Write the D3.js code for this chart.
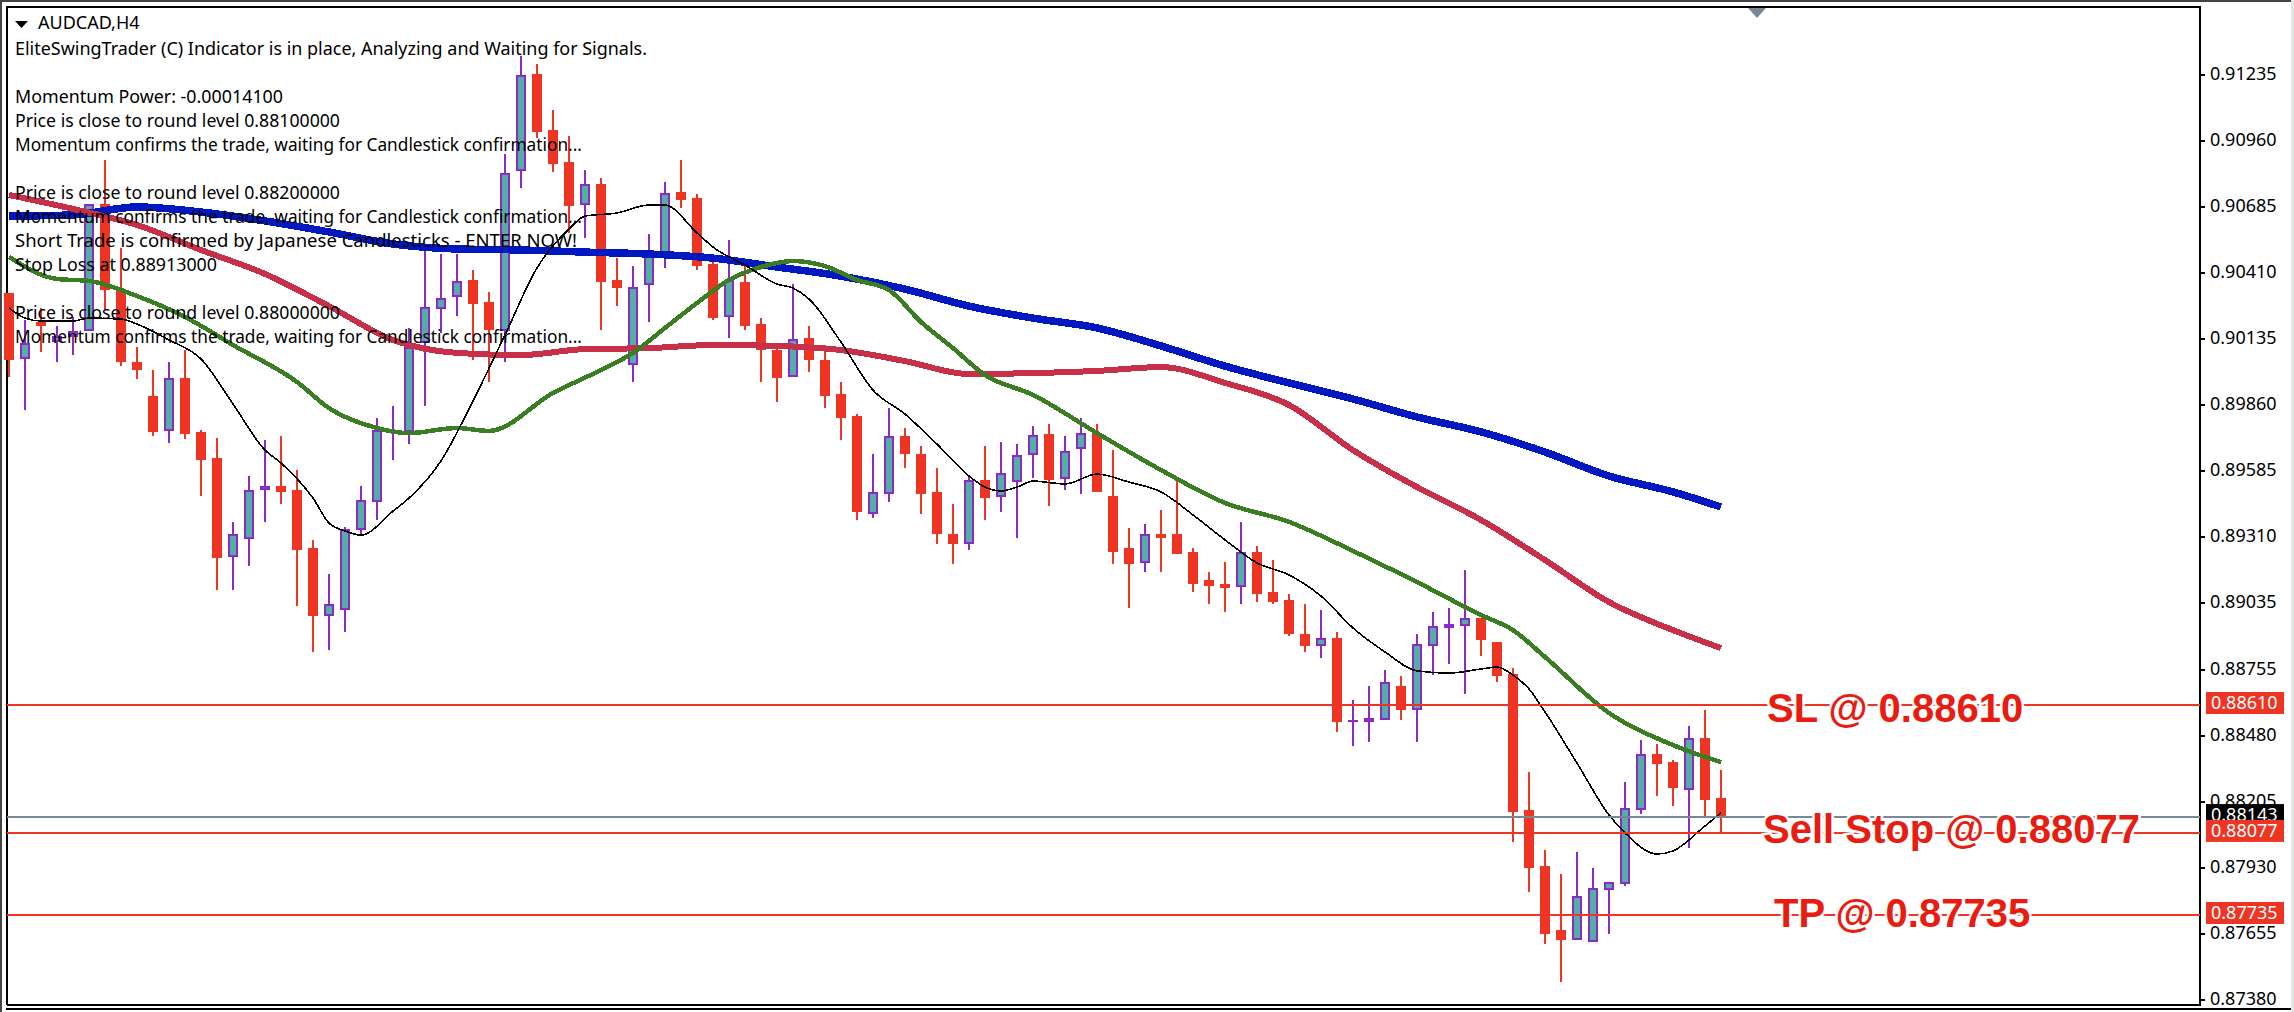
<!DOCTYPE html>
<html><head><meta charset="utf-8">
<script src="https://cdnjs.cloudflare.com/ajax/libs/d3/7.8.5/d3.min.js"></script>
<style>html,body{margin:0;padding:0;background:#fff}svg{display:block}</style>
</head><body>
<svg id="c" width="2294" height="1012"></svg>
<script>
const symbol = "AUDCAD,H4";
const commentRows = [1,3,4,5,7,8,9,10,12,13];
const commentLines = [
 "EliteSwingTrader (C) Indicator is in place, Analyzing and Waiting for Signals.",
 "Momentum Power: -0.00014100",
 "Price is close to round level 0.88100000",
 "Momentum confirms the trade, waiting for Candlestick confirmation...",
 "Price is close to round level 0.88200000",
 "Momentum confirms the trade, waiting for Candlestick confirmation...",
 "Short Trade is confirmed by Japanese Candlesticks - ENTER NOW!",
 "Stop Loss at 0.88913000",
 "Price is close to round level 0.88000000",
 "Momentum confirms the trade, waiting for Candlestick confirmation..."
];
const commentWidths = [632,268,325,567,325,567,562,202,325,567];
const priceTicks = [0.91235,0.90960,0.90685,0.90410,0.90135,0.89860,0.89585,0.89310,0.89035,0.88755,0.88480,0.88205,0.87930,0.87655,0.87380];
const highs = [0.90327,0.90214,0.90264,0.90189,0.90227,0.90698,0.90881,0.90514,0.90102,0.90006,
0.90039,0.90089,0.89756,0.89723,0.89373,0.89564,0.89714,0.89731,0.89589,0.89298,
0.89156,0.89352,0.89523,0.89806,0.89856,0.90181,0.90506,0.90489,0.90489,0.90422,
0.90331,0.90906,0.91314,0.91281,0.91089,0.90981,0.90839,0.90806,0.90472,0.90439,
0.90572,0.90789,0.90881,0.90739,0.90456,0.90547,0.90443,0.90222,0.90102,0.90364,
0.90189,0.90089,0.89956,0.89822,0.89656,0.89847,0.89764,0.89689,0.89597,0.89448,
0.89564,0.89689,0.89706,0.89697,0.89772,0.89781,0.89731,0.89806,0.89781,0.89672,
0.89347,0.89364,0.89422,0.89556,0.89264,0.89164,0.89206,0.89373,0.89272,0.89214,
0.89072,0.89031,0.89006,0.88914,0.88631,0.88689,0.88756,0.88731,0.88906,0.88997,
0.89014,0.89172,0.88972,0.88872,0.88764,0.88331,0.88006,0.87906,0.87997,0.87931,
0.87872,0.88289,0.88464,0.88447,0.88381,0.88522,0.88589,0.88339];
const lows = [0.89977,0.89839,0.90081,0.90039,0.90068,0.90168,0.90256,0.90022,0.89968,0.89731,
0.89702,0.89718,0.89481,0.89089,0.89089,0.89189,0.89373,0.89448,0.89023,0.88831,
0.88839,0.88914,0.89314,0.89381,0.89631,0.89697,0.89856,0.90160,0.90231,0.90047,
0.89956,0.90039,0.90764,0.90972,0.90831,0.90577,0.90556,0.90172,0.90272,0.89956,
0.90206,0.90431,0.90681,0.90422,0.90214,0.90139,0.90172,0.89956,0.89872,0.89977,
0.89997,0.89847,0.89714,0.89381,0.89389,0.89456,0.89597,0.89406,0.89281,0.89197,
0.89256,0.89381,0.89414,0.89306,0.89556,0.89439,0.89506,0.89489,0.89498,0.89197,
0.89014,0.89164,0.89164,0.89239,0.89081,0.89031,0.88997,0.89031,0.89039,0.89031,
0.88897,0.88831,0.88806,0.88497,0.88439,0.88456,0.88547,0.88547,0.88456,0.88735,
0.88781,0.88656,0.88814,0.88706,0.88039,0.87831,0.87614,0.87456,0.87631,0.87622,
0.87656,0.87856,0.88156,0.88231,0.88189,0.88014,0.88147,0.88077];
const opens = [0.90327,0.90052,0.90206,0.90122,0.90143,0.90168,0.90698,0.90339,0.90039,0.89898,
0.89752,0.89973,0.89748,0.89639,0.89227,0.89302,0.89506,0.89523,0.89506,0.89264,
0.88981,0.89006,0.89339,0.89456,0.89748,0.89748,0.90118,0.90260,0.90310,0.90381,
0.90289,0.90168,0.90835,0.91239,0.91006,0.90872,0.90693,0.90781,0.90381,0.90027,
0.90360,0.90493,0.90747,0.90722,0.90447,0.90227,0.90372,0.90197,0.90089,0.89977,
0.90139,0.90047,0.89906,0.89814,0.89406,0.89489,0.89731,0.89656,0.89498,0.89323,
0.89281,0.89547,0.89477,0.89539,0.89652,0.89739,0.89552,0.89677,0.89743,0.89481,
0.89264,0.89202,0.89323,0.89323,0.89247,0.89131,0.89114,0.89102,0.89247,0.89081,
0.89047,0.88906,0.88856,0.88889,0.88539,0.88539,0.88547,0.88689,0.88589,0.88856,
0.88931,0.88939,0.88972,0.88872,0.88739,0.88172,0.87939,0.87672,0.87631,0.87622,
0.87839,0.87864,0.88172,0.88406,0.88372,0.88256,0.88472,0.88222];
const closes = [0.90047,0.90118,0.90189,0.90148,0.90168,0.90698,0.90339,0.90039,0.90006,0.89748,
0.89973,0.89739,0.89631,0.89223,0.89323,0.89506,0.89523,0.89498,0.89256,0.88981,
0.89031,0.89343,0.89464,0.89756,0.89756,0.90102,0.90268,0.90306,0.90377,0.90281,
0.90172,0.90827,0.91235,0.90997,0.90864,0.90689,0.90781,0.90372,0.90347,0.90352,
0.90502,0.90743,0.90714,0.90439,0.90222,0.90381,0.90189,0.90089,0.89973,0.90135,
0.90047,0.89898,0.89806,0.89414,0.89498,0.89731,0.89656,0.89489,0.89323,0.89281,
0.89547,0.89472,0.89577,0.89652,0.89735,0.89547,0.89668,0.89743,0.89498,0.89247,
0.89197,0.89323,0.89306,0.89239,0.89114,0.89106,0.89097,0.89247,0.89072,0.89039,
0.88906,0.88856,0.88889,0.88539,0.88547,0.88556,0.88706,0.88589,0.88864,0.88939,
0.88947,0.88972,0.88881,0.88731,0.88164,0.87931,0.87656,0.87631,0.87814,0.87847,
0.87872,0.88181,0.88406,0.88364,0.88264,0.88472,0.88214,0.88143];

const blackIdx = [0,1,2,4,5,7,8,10,12,14,16,17,19,20,21,22,24,25,27,29,31,33,35,36,38,40,41,43,44,46,48,49,50,52,54,56,58,60,61,62,63,64,66,68,70,72,74,76,78,80,82,84,86,88,90,92,93,94,95,96,98,100,101,103,104,106,107];
const blackMA = [0.90264,0.90222,0.90210,0.90210,0.90222,0.90218,0.90197,0.90131,0.90052,0.89864,
0.89672,0.89618,0.89472,0.89368,0.89335,0.89318,0.89418,0.89472,0.89627,0.89877,
0.90152,0.90431,0.90593,0.90647,0.90660,0.90693,0.90693,0.90577,0.90518,0.90443,
0.90364,0.90347,0.90302,0.90122,0.89922,0.89822,0.89697,0.89564,0.89518,0.89502,
0.89518,0.89543,0.89531,0.89572,0.89539,0.89498,0.89402,0.89298,0.89202,0.89152,
0.89064,0.88931,0.88831,0.88752,0.88743,0.88760,0.88768,0.88735,0.88677,0.88581,
0.88368,0.88152,0.88077,0.87989,0.88002,0.88106,0.88160];
const greenIdx = [0,3,5,8,11,14,18,20,23,25,28,30,34,37,39,41,43,45,47,49,51,53,55,57,59,61,64,68,72,76,80,84,88,92,94,96,100,104,107];
const greenMA = [0.90477,0.90385,0.90377,0.90314,0.90227,0.90110,0.89956,0.89847,0.89764,0.89743,0.89764,0.89752,
0.89910,0.90006,0.90077,0.90181,0.90285,0.90381,0.90435,0.90460,0.90439,0.90381,0.90339,0.90206,0.90097,0.89985,
0.89902,0.89743,0.89589,0.89452,0.89373,0.89252,0.89122,0.88985,0.88922,0.88810,0.88577,0.88443,0.88372];
const slowIdx = [0,4,8,12,16,20,24,28,32,36,40,44,48,52,56,60,64,68,72,76,80,84,88,92,96,100,104,107];
const redMA = [0.90735,0.90677,0.90610,0.90506,0.90406,0.90272,0.90131,0.90077,0.90068,0.90093,0.90097,0.90110,0.90106,0.90089,
0.90043,0.89989,0.89993,0.90002,0.90018,0.89952,0.89860,0.89672,0.89518,0.89381,0.89214,0.89039,0.88922,0.88847];
const blueMA = [0.90647,0.90652,0.90685,0.90664,0.90627,0.90581,0.90531,0.90510,0.90506,0.90497,0.90489,0.90472,0.90435,0.90397,
0.90343,0.90272,0.90222,0.90181,0.90106,0.90022,0.89952,0.89885,0.89810,0.89748,0.89664,0.89564,0.89498,0.89435];

const levelNames = ["SL @ 0.88610","Sell Stop @ 0.88077","TP @ 0.87735"];
const levelPrices = [0.88610,0.88077,0.87735];
const bidPrice = 0.88143;

const svg = d3.select("#c");
const L=7,T=7,R=2200,B=1005;
const x = d3.scaleLinear().domain([0,107]).range([9,1721]);
const y = d3.scaleLinear().domain([0.91235,0.87380]).range([75,1000.2]);
const RED="#ee3524",PUR="#8a2bc8",TEAL="#55aea6",SAFE="Tahoma,'Noto Sans','DejaVu Sans',sans-serif";

// window frame
svg.append("rect").attr("width",2294).attr("height",2).attr("fill","#444");
svg.append("rect").attr("width",2).attr("height",1012).attr("fill","#444");
svg.append("rect").attr("x",2291).attr("width",3).attr("height",1012).attr("fill","#e4e4e4");
const frame = svg.append("g").attr("shape-rendering","crispEdges");
frame.append("path").attr("d",`M${L} ${B}V${T}H${R}V${B}H${L}`).attr("fill","none").attr("stroke","#000").attr("stroke-width",2);
frame.append("line").attr("x1",L-1).attr("x2",2291).attr("y1",1009).attr("y2",1009).attr("stroke","#000").attr("stroke-width",2);

// candles
const cg = svg.append("g").attr("shape-rendering","crispEdges");
const idx = d3.range(highs.length);
const isBull = i => closes[i] >= opens[i];
cg.selectAll("line.w").data(idx).join("line").attr("class","w")
  .attr("x1",i=>x(i)).attr("x2",i=>x(i)).attr("y1",i=>y(highs[i])).attr("y2",i=>y(lows[i]))
  .attr("stroke",i=>isBull(i)?PUR:RED).attr("stroke-width",2);
const bodyTop = i => Math.round(y(Math.max(opens[i],closes[i])));
const bodyBot = i => Math.round(y(Math.min(opens[i],closes[i])));
cg.selectAll("rect.b").data(idx).join("rect").attr("class","b")
  .attr("x",i=>x(i)-5).attr("width",10).attr("y",bodyTop)
  .attr("height",i=>Math.max(2,bodyBot(i)-bodyTop(i)))
  .attr("fill",i=>isBull(i)?PUR:RED);
cg.selectAll("rect.t").data(idx.filter(i=>isBull(i)&&bodyBot(i)-bodyTop(i)>4)).join("rect").attr("class","t")
  .attr("x",i=>x(i)-3).attr("width",6).attr("y",i=>bodyTop(i)+2)
  .attr("height",i=>bodyBot(i)-bodyTop(i)-4).attr("fill",TEAL);

// moving averages (aliased like the platform's bitmap lines)
const lineOf = (ids,vals,color,w)=>svg.append("path")
  .attr("d",d3.line().x((d,k)=>x(ids[k])).y(d=>y(d)).curve(d3.curveMonotoneX)(vals))
  .attr("fill","none").attr("stroke",color).attr("stroke-width",w).attr("shape-rendering","crispEdges");
lineOf(slowIdx,blueMA,"#0018c0",7.5);
lineOf(slowIdx,redMA,"#c8304a",6);
lineOf(greenIdx,greenMA,"#3a7d22",4.5);
lineOf(blackIdx,blackMA,"#000",1.6);

// bid + order levels
const lv = svg.append("g").attr("shape-rendering","crispEdges");
lv.append("line").attr("x1",L).attr("x2",R).attr("y1",y(bidPrice)).attr("y2",y(bidPrice)).attr("stroke","#778899").attr("stroke-width",2);
lv.selectAll("line.l").data(levelPrices).join("line").attr("class","l")
  .attr("x1",L).attr("x2",R).attr("y1",d=>y(d)).attr("y2",d=>y(d)).attr("stroke",RED).attr("stroke-width",2);

// top marker
svg.append("path").attr("d",`M1748 8H1766L1757 18Z`).attr("fill","#778899");

// axis
const ax = d3.axisRight(y).tickValues(priceTicks).tickFormat(d=>d.toFixed(5)).tickSize(5).tickPadding(5);
const axg = svg.append("g").attr("transform",`translate(${R},-1)`).call(ax);
axg.select(".domain").remove();
axg.selectAll("line").attr("stroke","#000").attr("stroke-width",2).attr("shape-rendering","crispEdges");
axg.selectAll("text").attr("font-family",SAFE).attr("font-size",18).attr("fill","#000");

// price tags
const tag=(p,fill)=>{
  const cy=y(p)-2;
  svg.append("rect").attr("x",2206).attr("y",cy-11).attr("width",78).attr("height",22).attr("fill",fill);
  svg.append("text").attr("x",2211).attr("y",cy).attr("dy","0.35em").attr("fill","#fff")
    .attr("font-family",SAFE).attr("font-size",18).text(p.toFixed(5));
};
tag(bidPrice,"#000");
levelPrices.forEach(p=>tag(p,RED));

// big annotations
const annX=[1767,1763,1774], annY=[722,843,927];
svg.selectAll("text.a").data(levelNames).join("text").attr("class","a")
  .attr("x",(d,i)=>annX[i]).attr("y",(d,i)=>annY[i]).text(d=>d)
  .attr("font-family","'Liberation Sans',Arial,sans-serif").attr("font-weight",700).attr("font-size",40)
  .attr("fill","#e81c10").attr("stroke","#fff").attr("stroke-width",5).attr("paint-order","stroke");

// header + comment
svg.append("path").attr("d","M15 21H28L21.5 28Z").attr("fill","#000");
svg.append("text").attr("x",38).attr("y",23).attr("dy","0.35em").attr("font-family",SAFE).attr("font-size",18).text(symbol);
svg.selectAll("text.c").data(commentLines).join("text").attr("class","c")
  .attr("x",15).attr("y",(d,i)=>25+commentRows[i]*24).attr("dy","0.35em")
  .attr("textLength",(d,i)=>commentWidths[i]).attr("lengthAdjust","spacingAndGlyphs")
  .attr("font-family",SAFE).attr("font-size",18).attr("fill","#000").text(d=>d);
</script>
</body></html>
